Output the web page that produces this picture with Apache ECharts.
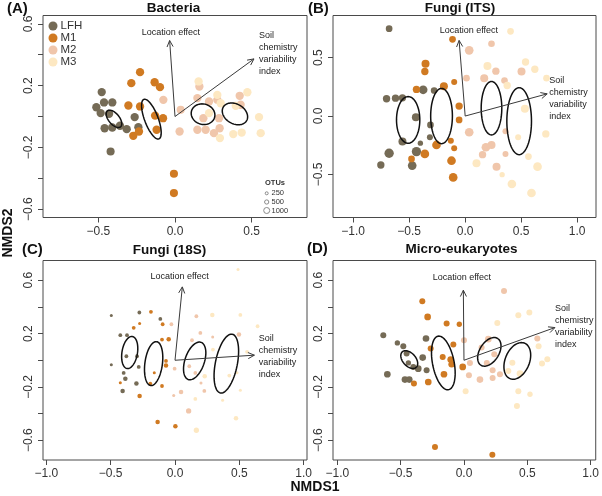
<!DOCTYPE html>
<html><head><meta charset="utf-8">
<script src="https://cdn.jsdelivr.net/npm/echarts@6/dist/echarts.min.js"></script>
<style>html,body{margin:0;padding:0;background:#fff}#c{width:602px;height:496px}</style>
</head><body><div id="c"></div>
<script>
// ---------- DATA ----------
const groups = ['LFH', 'M1', 'M2', 'M3'];

// Panel A: Bacteria  [NMDS1, NMDS2, OTUs]
const bacteriaLFH = [[-0.478,0.158,950],[-0.513,0.06,950],[-0.463,0.091,950],[-0.409,0.091,950],[-0.485,0.022,950],[-0.43,0.017,950],[-0.459,-0.076,950],[-0.409,-0.071,950],[-0.359,-0.06,950],[-0.315,-0.082,950],[-0.263,-0.004,950],[-0.239,-0.069,950],[-0.42,-0.227,900]];
const bacteriaM1 = [[-0.228,0.287,950],[-0.285,0.216,950],[-0.133,0.222,950],[-0.098,0.19,950],[-0.304,0.071,950],[-0.228,0.065,950],[-0.13,0.006,950],[-0.078,-0.011,950],[-0.12,-0.086,950],[-0.272,-0.125,950],[-0.235,-0.097,950],[-0.007,-0.371,900],[-0.007,-0.496,900]];
const bacteriaM2 = [[-0.076,0.108,950],[0.037,0.043,900],[0.03,-0.097,950],[0.159,0.194,950],[0.146,0.119,950],[0.222,0.097,950],[0.276,0.108,950],[0.185,-0.011,950],[0.287,-0.011,950],[0.146,-0.086,950],[0.2,-0.086,950],[0.254,-0.108,950],[0.291,-0.076,950],[0.422,0.134,950],[0.428,0.076,950]];
const bacteriaM3 = [[0.154,0.227,950],[0.276,0.14,950],[0.298,0.086,950],[0.472,0.157,950],[0.548,-0.004,950],[0.559,-0.108,950],[0.38,-0.114,950],[0.435,-0.104,950],[0.293,-0.14,950],[0.222,0.022,950],[0.396,0.069,950]];
// ellipses: [centre x, centre y, semi-axis a, semi-axis b, angle of a (deg)]
const bacteriaEllipses = [[-0.398,-0.015,0.067,0.035,-50],[-0.154,-0.017,0.137,0.044,-69],[0.183,0.015,0.078,0.066,-15],[0.391,0.017,0.088,0.064,-30]];
const bacteriaVectors = [[-0.035,0.492],[0.515,0.373]];

// Panel B: Fungi (ITS)
const itsLFH = [[-0.679,0.749,494],[-0.702,0.148,598],[-0.622,0.153,598],[-0.56,0.156,598],[-0.375,0.225,835],[-0.277,0.219,494],[-0.44,-0.01,711],[-0.31,-0.076,494],[-0.315,-0.182,400],[-0.4,-0.233,316],[-0.56,-0.219,711],[-0.679,-0.319,968],[-0.753,-0.42,598],[-0.435,-0.305,968],[-0.473,-0.425,835]];
const itsM1 = [[-0.113,0.658,494],[-0.354,0.448,711],[-0.36,0.382,598],[-0.435,0.228,598],[-0.19,0.256,711],[-0.098,0.291,400],[-0.054,0.085,598],[-0.054,-0.033,494],[-0.128,-0.211,400],[-0.098,-0.277,400],[-0.256,-0.248,835],[-0.36,-0.325,835],[-0.479,-0.368,494],[-0.122,-0.383,835],[-0.107,-0.526,835]];
const itsM2 = [[0.036,0.563,835],[0.235,0.62,494],[0.012,0.325,494],[0.17,0.325,711],[0.274,0.385,598],[0.351,0.305,494],[0.503,0.382,711],[0.036,-0.139,835],[0.185,-0.268,835],[0.235,-0.248,711],[0.155,-0.331,598],[0.28,-0.434,711],[0.36,-0.13,400],[0.36,-0.325,400]];
const itsM3 = [[0.405,0.726,494],[0.199,0.428,711],[0.539,0.463,598],[0.622,0.401,598],[0.726,0.325,494],[0.375,0.262,598],[0.533,0.062,711],[0.473,-0.182,400],[0.72,-0.153,598],[0.101,-0.405,711],[0.33,-0.503,316],[0.417,-0.583,835],[0.592,-0.66,835],[0.646,-0.434,835],[0.565,-0.348,494]];
const itsEllipses = [[-0.509,-0.033,0.2,0.104,90],[-0.211,0.0,0.237,0.097,90],[0.235,0.067,0.229,0.092,90],[0.482,-0.044,0.287,0.11,90]];
const itsVectors = [[-0.054,0.648],[0.732,0.19]];

// Panel C: Fungi (18S)
const s18LFH = [[-0.495,0.335,316],[-0.277,0.358,494],[-0.114,0.31,494],[-0.425,0.188,494],[-0.373,0.188,494],[-0.378,0.03,494],[-0.295,0.03,494],[-0.282,-0.05,494],[-0.495,-0.033,316],[-0.399,-0.095,494],[-0.386,-0.138,711],[-0.3,-0.175,711],[-0.407,-0.23,711]];
const s18M1 = [[-0.187,0.363,494],[-0.275,0.275,316],[-0.321,0.243,494],[-0.096,0.27,494],[-0.101,0.155,494],[-0.049,0.158,711],[-0.07,-0.005,494],[-0.07,-0.04,711],[-0.161,-0.093,316],[-0.192,-0.175,494],[-0.101,-0.193,494],[-0.425,-0.168,316],[-0.275,-0.268,711],[-0.135,-0.463,711],[0.003,-0.495,711]];
const s18M2 = [[-0.028,0.27,494],[0.166,0.33,494],[0.197,0.205,494],[0.293,0.175,316],[0.132,0.15,494],[0.497,0.193,711],[-0.003,-0.063,494],[0.111,-0.045,494],[0.158,-0.095,494],[0.202,-0.17,316],[0.228,-0.23,494],[0.047,-0.238,711],[-0.01,-0.265,316],[0.106,-0.38,968]];
const s18M3 = [[0.49,0.68,316],[0.29,0.34,711],[0.508,0.34,494],[0.642,0.255,494],[0.295,0.08,494],[0.56,0.063,494],[0.231,-0.12,711],[0.422,-0.115,494],[0.482,-0.093,316],[0.508,-0.225,316],[0.158,-0.29,494],[0.37,-0.3,316],[0.474,-0.435,711],[0.166,-0.525,968]];
const s18Ellipses = [[-0.352,0.058,0.122,0.06,80],[-0.166,-0.025,0.166,0.068,82],[0.153,-0.005,0.148,0.075,70],[0.399,-0.025,0.225,0.085,78]];
const s18Vectors = [[0.057,0.55],[0.617,0.038]];

// Panel D: Micro-eukaryotes
const microLFH = [[-0.637,0.188,816],[-0.526,0.13,645],[-0.479,0.105,816],[-0.3,0.163,1008],[-0.453,0.05,816],[-0.439,-0.02,645],[-0.326,0.02,1008],[-0.361,-0.063,1008],[-0.295,-0.075,816],[-0.605,-0.105,1008],[-0.466,-0.145,1008],[-0.432,-0.145,1008],[-0.4,-0.05,816]];
const microM1 = [[-0.329,0.443,816],[-0.287,0.325,1008],[-0.137,0.275,816],[-0.037,0.27,645],[-0.263,0.088,816],[-0.084,0.118,816],[-0.168,0.025,816],[-0.105,0.005,1008],[-0.097,-0.03,1008],[-0.158,-0.105,1008],[-0.01,-0.05,1008],[-0.395,-0.175,816],[-0.282,-0.163,1008],[-0.229,-0.65,816],[0.224,-0.708,816]];
const microM2 = [[0.316,0.52,816],[0.0,0.15,816],[0.192,0.158,1008],[0.139,0.095,816],[0.239,0.045,816],[0.047,-0.02,816],[0.226,-0.075,816],[0.284,-0.105,816],[0.039,-0.113,816],[0.126,-0.145,1008],[0.226,-0.133,816],[0.579,0.163,816],[0.18,-0.02,816]];
const microM3 = [[0.263,0.28,816],[0.429,0.338,816],[0.516,0.358,816],[0.589,0.105,816],[0.658,0.008,816],[0.616,-0.025,816],[0.382,-0.018,816],[0.35,-0.08,816],[0.442,-0.1,1008],[0.429,-0.233,816],[0.521,-0.255,645],[0.418,-0.343,816],[0.013,-0.233,816]];
const microEllipses = [[-0.432,0.005,0.08,0.05,-45],[-0.163,-0.02,0.205,0.085,-78],[0.2,0.063,0.12,0.075,55],[0.421,-0.005,0.145,0.095,65]];
const microVectors = [[-0.005,0.525],[0.718,0.245]];

const vectorNames = ['Location effect', 'Soil\nchemistry\nvariability\nindex'];
const otuLegendValues = [250, 500, 1000];
const panelTitles = ['Bacteria', 'Fungi (ITS)', 'Fungi (18S)', 'Micro-eukaryotes'];
const panelLetters = ['(A)', '(B)', '(C)', '(D)'];
const xTicksA = [-0.5, 0, 0.5];
const xTicksWide = [-1, -0.5, 0, 0.5, 1];
const yTicksFine = [-0.6, -0.4, -0.2, 0, 0.2, 0.4, 0.6];
const yLabelsFine = [-0.6, -0.2, 0.2, 0.6];
const yTicksB = [-0.5, 0, 0.5];

// ---------- LAYOUT / STYLE ----------
const FONT = '"Liberation Sans", Arial, Helvetica, sans-serif';
const colors = ['#756b56', '#d07a22', '#f0c6ab', '#fde8c2'];
const panels = [
  {grid:{left:43, top:15.5, width:264, height:202}, xlim:[-0.861,0.861], ylim:[-0.654,0.654], xt:xTicksA, xl:xTicksA, yt:yTicksFine, yl:yLabelsFine, k:0.27,
   pts:[bacteriaLFH,bacteriaM1,bacteriaM2,bacteriaM3], ell:bacteriaEllipses, vec:bacteriaVectors, lab:[[-0.027,0.546],[0.548,0.522]]},
  {grid:{left:333, top:15.5, width:263, height:202}, xlim:[-1.18,1.168], ylim:[-0.87,0.862], xt:xTicksWide, xl:xTicksWide, yt:yTicksB, yl:yTicksB, k:0.3,
   pts:[itsLFH,itsM1,itsM2,itsM3], ell:itsEllipses, vec:itsVectors, lab:[[0.033,0.729],[0.75,0.305]]},
  {grid:{left:43, top:260.5, width:264, height:199.5}, xlim:[-1.026,1.026], ylim:[-0.748,0.748], xt:xTicksWide, xl:xTicksWide, yt:yTicksFine, yl:yLabelsFine, k:0.17,
   pts:[s18LFH,s18M1,s18M2,s18M3], ell:s18Ellipses, vec:s18Vectors, lab:[[0.036,0.625],[0.65,0.16]]},
  {grid:{left:333, top:260.5, width:263, height:199.5}, xlim:[-1.034,1.04], ylim:[-0.748,0.748], xt:xTicksWide, xl:xTicksWide, yt:yTicksFine, yl:yLabelsFine, k:0.21,
   pts:[microLFH,microM1,microM2,microM3], ell:microEllipses, vec:microVectors, lab:[[-0.017,0.62],[0.718,0.385]]}
];

const fmt = v => (v < 0 ? '\u2212' : '') + Math.abs(v).toFixed(1);

const grid = [], xAxis = [], yAxis = [], series = [];
panels.forEach((p, i) => {
  grid.push(Object.assign({show:true, borderColor:'#4a4a4a', borderWidth:1, backgroundColor:'transparent'}, p.grid));
  xAxis.push({gridIndex:i, type:'value', position:'bottom', min:p.xlim[0], max:p.xlim[1], splitLine:{show:false}, splitArea:{show:false}, minorTick:{show:false},
    axisLine:{show:false, onZero:false},
    axisTick:{show:true, length:5, customValues:p.xt, lineStyle:{color:'#4a4a4a', width:1}},
    axisLabel:{customValues:p.xl, formatter:fmt, fontSize:12, color:'#333', margin:8, fontFamily:FONT}});
  yAxis.push({gridIndex:i, type:'value', position:'left', min:p.ylim[0], max:p.ylim[1], splitLine:{show:false}, splitArea:{show:false}, minorTick:{show:false},
    axisLine:{show:false, onZero:false},
    axisTick:{show:true, length:5, customValues:p.yt, lineStyle:{color:'#4a4a4a', width:1}},
    axisLabel:{customValues:p.yl, formatter:fmt, fontSize:12, color:'#333', margin:8, rotate:90, fontFamily:FONT}});
  p.pts.forEach((arr, g) => {
    series.push({name:groups[g], type:'scatter', xAxisIndex:i, yAxisIndex:i, data:arr, z:2,
      symbol:'circle', symbolSize: v => p.k * Math.sqrt(v[2]),
      itemStyle:{color:colors[g], opacity:1}, emphasis:{disabled:true}, silent:true});
  });
  series.push({type:'custom', xAxisIndex:i, yAxisIndex:i, data:p.ell, z:5, silent:true, encode:{x:0, y:1},
    renderItem:(params, api) => {
      const cx = api.value(0), cy = api.value(1), a = api.value(2), b = api.value(3), th = api.value(4) * Math.PI / 180;
      const pts = [];
      for (let s = 0; s <= 80; s++) {
        const t = s / 80 * 2 * Math.PI;
        const dx = a * Math.cos(t) * Math.cos(th) - b * Math.sin(t) * Math.sin(th);
        const dy = a * Math.cos(t) * Math.sin(th) + b * Math.sin(t) * Math.cos(th);
        pts.push(api.coord([cx + dx, cy + dy]));
      }
      return {type:'polyline', shape:{points:pts}, style:{stroke:'#111', lineWidth:1.5, fill:null}};
    }});
  series.push({type:'custom', xAxisIndex:i, yAxisIndex:i, data:p.vec, z:6, silent:true, encode:{x:0, y:1},
    renderItem:(params, api) => {
      const o = api.coord([0, 0]);
      const q = api.coord([api.value(0), api.value(1)]);
      const ang = Math.atan2(q[1] - o[1], q[0] - o[0]);
      const L = 7, hw = 0.45;
      const h1 = [q[0] - L * Math.cos(ang - hw), q[1] - L * Math.sin(ang - hw)];
      const h2 = [q[0] - L * Math.cos(ang + hw), q[1] - L * Math.sin(ang + hw)];
      return {type:'group', children:[
        {type:'line', shape:{x1:o[0], y1:o[1], x2:q[0], y2:q[1]}, style:{stroke:'#3a3a3a', lineWidth:1}},
        {type:'polyline', shape:{points:[h1, q, h2]}, style:{stroke:'#3a3a3a', lineWidth:1, fill:null}}
      ]};
    }});
  series.push({type:'custom', xAxisIndex:i, yAxisIndex:i, data:p.lab, z:7, silent:true, encode:{x:0, y:1},
    renderItem:(params, api) => {
      const q = api.coord([api.value(0), api.value(1)]);
      const idx = params.dataIndex;
      const align = idx === 0 ? 'center' : 'left';
      const lines = vectorNames[idx].split('\n');
      return {type:'group', children: lines.map((ln, j) => ({type:'text', x:q[0], y:q[1] + j * 12,
        style:{text:ln, fill:'#222', font:'9px ' + FONT, align:align, textAlign:align, verticalAlign:'middle', textVerticalAlign:'middle'}}))};
    }});
});

const graphic = [];
const titleFont = 'bold 13.5px ' + FONT;
const titlePos = [[173.5, 8], [460, 8], [169.5, 250], [461.5, 249]];
const letterPos = [[7, 8.5], [308, 8.5], [22, 250], [307, 249]];
panelTitles.forEach((t, i) => {
  graphic.push({type:'text', x:titlePos[i][0], y:titlePos[i][1], style:{text:t, font:titleFont, fill:'#111', align:'center', textAlign:'center', verticalAlign:'middle', textVerticalAlign:'middle'}});
  graphic.push({type:'text', x:letterPos[i][0], y:letterPos[i][1], style:{text:panelLetters[i], font:'bold 15px ' + FONT, fill:'#111', align:'left', textAlign:'left', verticalAlign:'middle', textVerticalAlign:'middle'}});
});
graphic.push({type:'text', x:315, y:487, style:{text:'NMDS1', font:'bold 14px ' + FONT, fill:'#111', align:'center', textAlign:'center', verticalAlign:'middle', textVerticalAlign:'middle'}});
graphic.push({type:'text', x:8, y:233, rotation:Math.PI / 2, style:{text:'NMDS2', font:'bold 14px ' + FONT, fill:'#111', align:'center', textAlign:'center', verticalAlign:'middle', textVerticalAlign:'middle'}});
// OTU size legend (panel A)
graphic.push({type:'text', x:275, y:183, style:{text:'OTUs', font:'bold 7.5px ' + FONT, fill:'#333', align:'center', textAlign:'center', verticalAlign:'middle', textVerticalAlign:'middle'}});
const otuY = [193.3, 202, 210.5];
otuLegendValues.forEach((v, j) => {
  graphic.push({type:'circle', shape:{cx:266.7, cy:otuY[j], r:0.095 * Math.sqrt(v)}, style:{fill:'none', stroke:'#8a8a8a', lineWidth:1}});
  graphic.push({type:'text', x:271.5, y:otuY[j], style:{text:String(v), font:'7.5px ' + FONT, fill:'#333', align:'left', textAlign:'left', verticalAlign:'middle', textVerticalAlign:'middle'}});
});

const chart = echarts.init(document.getElementById('c'), null, {renderer:'canvas'});
chart.setOption({
  animation:false,
  backgroundColor:'#fff',
  textStyle:{fontFamily:FONT},
  grid, xAxis, yAxis, series, graphic,
  legend:{data:groups, orient:'vertical', left:48.5, top:20, padding:0, itemGap:0, itemWidth:9, itemHeight:9, icon:'circle', selectedMode:false,
    textStyle:{fontSize:11.5, color:'#333', lineHeight:11.7, fontFamily:FONT, padding:[0,0,0,-2]}}
});
</script></body></html>
